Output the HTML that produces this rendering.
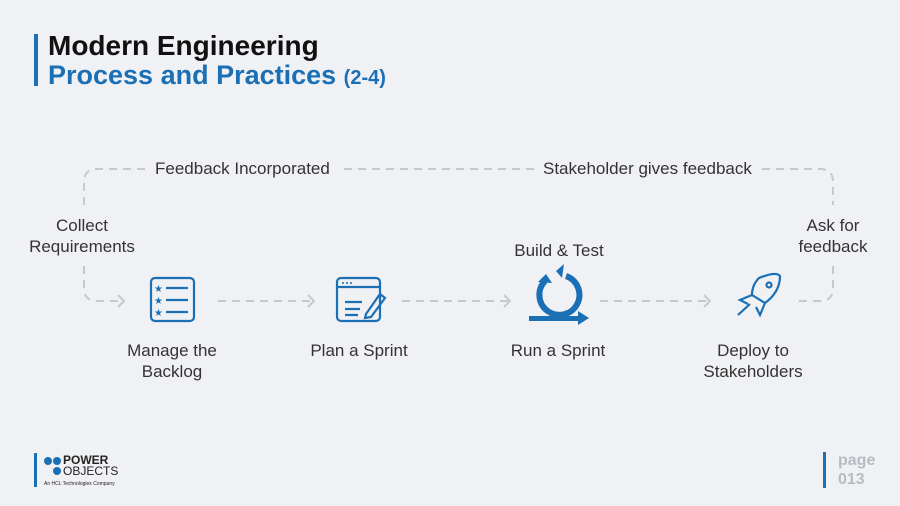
<!DOCTYPE html>
<html><head><meta charset="utf-8"><style>
body{margin:0;width:900px;height:506px;background:#f0f1f4;overflow:hidden;font-family:"Liberation Sans",sans-serif;position:relative}
.t{position:absolute;font-size:17px;color:#333;text-align:center;line-height:21px;white-space:nowrap}
</style></head><body>
<div style="position:absolute;left:34px;top:34px;width:4px;height:52px;background:#1b6fb5"></div>
<div style="position:absolute;left:48px;top:30px;font-size:28px;font-weight:bold;color:#111;line-height:31px">Modern Engineering</div>
<div style="position:absolute;left:48px;top:60px;font-size:27px;font-weight:bold;color:#1b6fb5;line-height:31px">Process and Practices <span style="font-size:20px">(2-4)</span></div>

<svg width="900" height="506" style="position:absolute;left:0;top:0">
<g fill="none" stroke="#c6c8cc" stroke-width="2" stroke-dasharray="8,6">
<path d="M84 205 V182 Q84 169 97 169 H146"/>
<path d="M344 169 H535"/>
<path d="M762 169 H820 Q833 169 833 182 V205"/>
<path d="M84 266 V288 Q84 301 97 301 H122"/>
<path d="M833 266 V288 Q833 301 820 301 H798"/>
<path d="M218 301 H312"/><path d="M402 301 H508"/><path d="M600 301 H708"/>
</g>
<g fill="none" stroke="#c6c8cc" stroke-width="2">
<path d="M118 295 L124 301 L118 307"/><path d="M308 295 L314 301 L308 307"/><path d="M504 295 L510 301 L504 307"/><path d="M704 295 L710 301 L704 307"/>
</g>
<g fill="none" stroke="#1b6fb5" stroke-width="2.2">
<rect x="151" y="278" width="43" height="43" rx="4"/>
<path d="M166 288 H188 M166 300 H188 M166 312 H188"/>
<rect x="337" y="278" width="43" height="43" rx="4"/>
<path d="M337 287 H380 M345 302 H362 M345 309 H360 M345 315 H358"/>
<path d="M366 314 L380 294 L385 298 L371 317 L365 318 Z"/>
<path d="M759 278 Q776 271 780 276 Q780 292 765 303 L752 295 Q752 285 759 278 Z"/>
<path d="M752 295 L740 300 L748 304 M765 303 L760 315 L756 307 M750 304 L738 315"/>
<circle cx="769" cy="285" r="2.5"/>
</g>
<g fill="#1b6fb5" font-size="10"><text x="154" y="292">★</text><text x="154" y="304">★</text><text x="154" y="316">★</text>
<circle cx="343" cy="283" r="1"/><circle cx="347" cy="283" r="1"/><circle cx="351" cy="283" r="1"/></g>
<path d="M545 281 A20 20 0 1 0 566 276" fill="none" stroke="#1b6fb5" stroke-width="6"/>
<path d="M556 271 L564 264 L562 278 Z" fill="#1b6fb5"/>
<path d="M546 274 L538 282 L552 283 Z" fill="#1b6fb5"/>
<path d="M529 316 H578 V311 L589 318 L578 325 V321 H529 Z" fill="#1b6fb5"/>
</svg>

<div class="t" style="left:155px;top:158px">Feedback Incorporated</div>
<div class="t" style="left:543px;top:158px">Stakeholder gives feedback</div>
<div class="t" style="left:22px;top:215px;width:120px">Collect<br>Requirements</div>
<div class="t" style="left:773px;top:215px;width:120px">Ask for<br>feedback</div>
<div class="t" style="left:499px;top:240px;width:120px">Build &amp; Test</div>
<div class="t" style="left:112px;top:340px;width:120px">Manage the<br>Backlog</div>
<div class="t" style="left:299px;top:340px;width:120px">Plan a Sprint</div>
<div class="t" style="left:498px;top:340px;width:120px">Run a Sprint</div>
<div class="t" style="left:693px;top:340px;width:120px">Deploy to<br>Stakeholders</div>

<div style="position:absolute;left:34px;top:453px;width:3px;height:34px;background:#1b6fb5"></div>
<div style="position:absolute;left:44px;top:457px;width:8px;height:8px;border-radius:50%;background:#1b6fb5"></div>
<div style="position:absolute;left:53px;top:457px;width:8px;height:8px;border-radius:50%;background:#1b6fb5"></div>
<div style="position:absolute;left:53px;top:467px;width:8px;height:8px;border-radius:50%;background:#1b6fb5"></div>
<div style="position:absolute;left:63px;top:455px;font-size:12px;font-weight:bold;color:#222;line-height:11px">POWER</div>
<div style="position:absolute;left:63px;top:466px;font-size:12px;color:#222;line-height:11px">OBJECTS</div>
<div style="position:absolute;left:44px;top:481px;font-size:5px;color:#222">An HCL Technologies Company</div>

<div style="position:absolute;left:823px;top:452px;width:3px;height:36px;background:#1b6fb5"></div>
<div style="position:absolute;left:838px;top:451px;font-size:16px;font-weight:bold;color:#b8bcc2;line-height:19px">page<br>013</div>
</body></html>
